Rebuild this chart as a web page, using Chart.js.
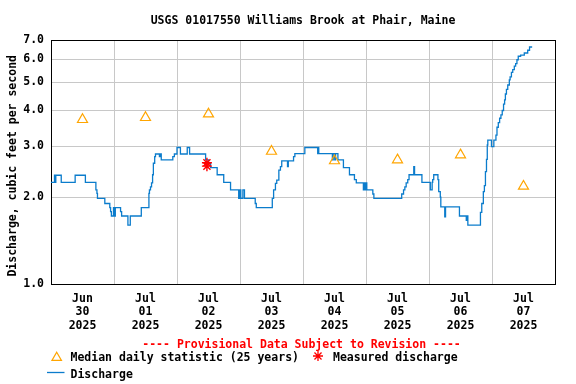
<!DOCTYPE html>
<html>
<head>
<meta charset="utf-8">
<script src="https://cdn.jsdelivr.net/npm/chart.js@4"></script>
<style>
html,body{margin:0;padding:0;background:#fff;}
#wrap{width:576px;height:384px;position:relative;}
</style>
</head>
<body>
<div id="wrap"><canvas id="c" width="576" height="384"></canvas></div>
<script>
// ---- data (x = hours since Jun 30 2025 00:00) ----
const titleText = 'USGS 01017550 Williams Brook at Phair, Maine';
const yAxisTitle = 'Discharge, cubic feet per second';
const dayMonths = ['Jun','Jul','Jul','Jul','Jul','Jul','Jul','Jul'];
const dayNumbers = ['30','01','02','03','04','05','06','07'];
const dayYears = ['2025','2025','2025','2025','2025','2025','2025','2025'];
const yTickValues = [1,2,3,4,5,6,7];

const dischargeHours = [0,1.33,1.6,1.83,3.9,9.2,13.1,17.1,17.5,17.7,20.5,22.4,22.7,23.0,23.8,24.3,24.5,26.5,26.9,29.3,30.2,34.4,
 37.3,37.5,37.9,38.3,38.7,39.0,39.5,39.8,41.3,41.6,42.0,46.4,47.0,48.0,49.3,51.9,52.8,58.9,60.0,60.8,63.3,65.8,68.4,71.5,
 72.0,72.3,73.1,73.7,77.8,78.2,84.3,84.8,85.5,86.0,86.8,87.4,87.9,90.1,90.4,92.4,92.9,96.7,101.6,101.8,102.0,
 107.2,107.5,108.1,108.4,109.3,111.4,113.7,115.6,116.3,119.0,119.3,119.8,120.1,120.3,122.6,123.0,133.6,134.3,134.8,135.3,135.9,136.4,
 138.2,138.5,141.3,144.5,145.2,145.4,145.8,147.4,147.7,148.3,148.5,150.0,150.3,155.6,158.2,158.5,158.8,163.6,164.1,164.7,165.1,165.5,165.9,166.2,166.4,
 167.8,168.7,169.5,169.9,170.4,170.9,171.4,171.9,172.4,172.8,173.1,173.5,174.0,174.6,174.9,175.4,175.9,176.5,177.0,177.5,178.0,178.9,180.3,181.6,182.3,183.3];
const dischargeValues = [2.25,2.38,2.25,2.38,2.25,2.38,2.25,2.12,2.06,1.98,1.90,1.84,1.78,1.72,1.84,1.72,1.84,1.78,1.72,1.60,1.72,1.84,
 2.06,2.12,2.17,2.24,2.39,2.62,2.76,2.82,2.76,2.82,2.69,2.76,2.82,2.97,2.82,2.97,2.82,2.69,2.62,2.53,2.39,2.25,2.12,1.98,
 2.12,1.98,2.12,1.98,1.90,1.84,1.98,2.12,2.23,2.29,2.48,2.55,2.67,2.55,2.67,2.76,2.83,2.97,2.83,2.97,2.83,
 2.69,2.83,2.69,2.83,2.69,2.53,2.39,2.30,2.24,2.12,2.24,2.12,2.24,2.12,2.05,1.98,2.05,2.12,2.17,2.24,2.30,2.39,
 2.55,2.39,2.25,2.12,2.25,2.30,2.39,2.30,2.09,2.00,1.85,1.71,1.85,1.72,1.66,1.72,1.60,1.77,1.90,2.09,2.19,2.45,2.70,3.03,3.15,
 2.99,3.15,3.28,3.49,3.62,3.75,3.85,3.99,4.20,4.34,4.55,4.72,4.89,5.09,5.22,5.41,5.53,5.68,5.80,5.98,6.15,6.20,6.31,6.45,6.62,6.62];

const medianHours = [12,36,60,84,108,132,156,180];
const medianValues = [3.71,3.77,3.88,2.88,2.67,2.69,2.80,2.18];

const measuredHours = [59.4,59.4];
const measuredValues = [2.63,2.56];

// ---- styles ----
const FONT = '"DejaVu Sans Mono", "Liberation Mono", monospace';
const BLUE = '#0b7ccc', ORANGE = '#ffa500', RED = '#ff0000', GRID = '#c8c8c8';

const toXY = (xs, ys) => xs.map((x, i) => ({x, y: ys[i]}));

const decor = {
  id: 'decor',
  beforeDraw(chart) {
    const ctx = chart.ctx;
    ctx.save();
    ctx.fillStyle = '#fff';
    ctx.fillRect(0, 0, chart.width, chart.height);
    ctx.restore();
  },
  beforeDatasetsDraw(chart) {
    const {ctx, chartArea: a} = chart;
    ctx.save();
    ctx.strokeStyle = '#000';
    ctx.lineWidth = 1;
    ctx.strokeRect(Math.round(a.left) + 0.5, Math.round(a.top) + 0.5, Math.round(a.right - a.left), Math.round(a.bottom - a.top));
    ctx.restore();
  },
  afterDraw(chart) {
    const {ctx, chartArea: a} = chart;
    ctx.save();
    ctx.font = 'bold 11.5px ' + FONT;
    ctx.fillStyle = '#000';
    ctx.textBaseline = 'alphabetic';
    // title
    ctx.textAlign = 'center';
    ctx.fillText(titleText, (a.left + a.right) / 2, 23.5);
    // y axis title
    ctx.save();
    ctx.translate(15.5, 165.8);
    ctx.rotate(-Math.PI / 2);
    ctx.fillText(yAxisTitle, 0, 0);
    ctx.restore();
    // provisional
    ctx.fillStyle = RED;
    ctx.fillText('---- Provisional Data Subject to Revision ----', 301.5, 347.5);
    // legend
    ctx.textAlign = 'left';
    ctx.fillStyle = '#000';
    ctx.fillText('Median daily statistic (25 years)', 70.5, 360.5);
    ctx.fillText('Measured discharge', 333, 360.5);
    ctx.fillText('Discharge', 70.5, 377.5);
    // triangle symbol
    const r = 5.5, cx = 56.7, cy = 357.7;
    ctx.strokeStyle = ORANGE; ctx.lineWidth = 1.2;
    ctx.beginPath();
    ctx.moveTo(cx, cy - r);
    ctx.lineTo(cx + r * Math.sin(2 * Math.PI / 3), cy - r * Math.cos(2 * Math.PI / 3));
    ctx.lineTo(cx + r * Math.sin(4 * Math.PI / 3), cy - r * Math.cos(4 * Math.PI / 3));
    ctx.closePath();
    ctx.stroke();
    // star symbol
    const sx = 318, sy = 356, sr = 5;
    ctx.strokeStyle = RED; ctx.lineWidth = 1.3;
    ctx.beginPath();
    for (let k = 0; k < 4; k++) {
      const ang = k * Math.PI / 4;
      ctx.moveTo(sx + sr * Math.cos(ang), sy + sr * Math.sin(ang));
      ctx.lineTo(sx - sr * Math.cos(ang), sy - sr * Math.sin(ang));
    }
    ctx.stroke();
    // line symbol
    ctx.strokeStyle = BLUE; ctx.lineWidth = 1.3;
    ctx.beginPath();
    ctx.moveTo(47, 372.5); ctx.lineTo(64.5, 372.5);
    ctx.stroke();
    ctx.restore();
  }
};

new Chart(document.getElementById('c'), {
  type: 'scatter',
  data: {
    datasets: [
      {
        label: 'Discharge',
        data: toXY(dischargeHours, dischargeValues),
        showLine: true,
        stepped: true,
        borderColor: BLUE,
        borderWidth: 1.3,
        pointRadius: 0,
        fill: false,
        order: 3
      },
      {
        label: 'Median daily statistic (25 years)',
        data: toXY(medianHours, medianValues),
        pointStyle: 'triangle',
        pointRadius: 5.8,
        borderColor: ORANGE,
        backgroundColor: 'rgba(0,0,0,0)',
        borderWidth: 1.2,
        order: 2
      },
      {
        label: 'Measured discharge',
        data: toXY(measuredHours, measuredValues),
        pointStyle: 'star',
        pointRadius: 5,
        borderColor: RED,
        backgroundColor: RED,
        borderWidth: 1.4,
        order: 1
      }
    ]
  },
  options: {
    responsive: false,
    animation: false,
    devicePixelRatio: 1,
    layout: {padding: {left: 0, top: 40, right: 21, bottom: 0}},
    plugins: {legend: {display: false}, tooltip: {enabled: false}, title: {display: false}},
    scales: {
      x: {
        type: 'linear',
        min: 0,
        max: 192,
        afterFit(s) { s.height = 100; },
        afterBuildTicks(s) {
          const t = [];
          for (let h = 0; h <= 192; h += 12) t.push({value: h});
          s.ticks = t;
        },
        border: {display: false},
        grid: {
          drawTicks: false,
          lineWidth: 1,
          color: (c) => {
            const v = c.tick && c.tick.value;
            return (v > 0 && v < 192 && v % 24 === 0) ? GRID : 'rgba(0,0,0,0)';
          }
        },
        ticks: {
          autoSkip: false,
          maxRotation: 0,
          padding: 8,
          color: '#000',
          font: {family: FONT, size: 11.5, weight: 'bold', lineHeight: 1.17},
          callback: (v) => {
            if (v % 24 !== 12) return '';
            const d = (v - 12) / 24;
            return [dayMonths[d], dayNumbers[d], dayYears[d]];
          }
        }
      },
      y: {
        type: 'logarithmic',
        min: 1,
        max: 7,
        afterFit(s) { s.width = 51; },
        afterBuildTicks(s) { s.ticks = yTickValues.map(v => ({value: v})); },
        border: {display: false},
        grid: {
          drawTicks: false,
          lineWidth: 1,
          color: (c) => {
            const v = c.tick && c.tick.value;
            return (v > 1 && v < 7) ? GRID : 'rgba(0,0,0,0)';
          }
        },
        ticks: {
          padding: 7,
          color: '#000',
          font: {family: FONT, size: 11.5, weight: 'bold'},
          callback: (v) => Number(v).toFixed(1)
        }
      }
    }
  },
  plugins: [decor]
});
</script>
</body>
</html>
